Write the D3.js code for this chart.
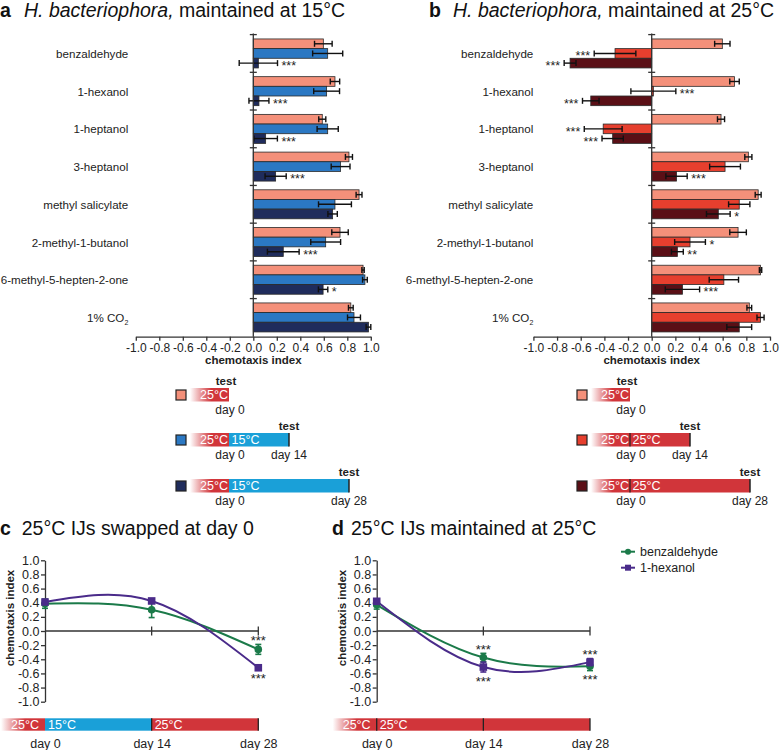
<!DOCTYPE html>
<html><head><meta charset="utf-8">
<script src="https://cdn.jsdelivr.net/npm/d3@7"></script>
<style>body{margin:0;background:#fff}svg{display:block;font-family:"Liberation Sans",Arial,Helvetica,sans-serif}</style>
</head><body><svg id="chart" width="781" height="750"></svg>
<script>
// ---------------- data ----------------
const odorants = ["benzaldehyde","1-hexanol","1-heptanol","3-heptanol","methyl salicylate","2-methyl-1-butanol","6-methyl-5-hepten-2-one","1% CO2"];
const ciTicks = [-1.0,-0.8,-0.6,-0.4,-0.2,0.0,0.2,0.4,0.6,0.8,1.0];

// panel a: maintained at 15°C (day 0, day 14, day 28)
const a15Day0 = [0.596,0.695,0.587,0.814,0.900,0.738,0.934,0.830];
const a15Day0Err = [0.075,0.040,0.030,0.030,0.025,0.070,0.010,0.020];
const a15Day14 = [0.633,0.624,0.633,0.743,0.695,0.616,0.950,0.857];
const a15Day14Err = [0.128,0.110,0.090,0.080,0.140,0.127,0.020,0.055];
const a15Day28 = [0.043,0.048,0.105,0.190,0.675,0.255,0.594,0.980];
const a15Day28Err = [0.163,0.085,0.100,0.090,0.040,0.135,0.040,0.020];
const a15Sig0 = ["","","","","","","",""];
const a15Sig14 = ["","","","","","","",""];
const a15Sig28 = ["***","***","***","***","","***","*",""];

// panel b: maintained at 25°C
const b25Day0 = [0.597,0.700,0.586,0.817,0.900,0.730,0.920,0.825];
const b25Day0Err = [0.065,0.040,0.030,0.030,0.025,0.070,0.010,0.020];
const b25Day14 = [-0.310,0.014,-0.410,0.620,0.740,0.324,0.610,0.920];
const b25Day14Err = [0.176,0.190,0.160,0.130,0.090,0.130,0.124,0.030];
const b25Day28 = [-0.690,-0.515,-0.330,0.210,0.563,0.217,0.260,0.740];
const b25Day28Err = [0.050,0.070,0.090,0.090,0.100,0.050,0.145,0.105];
const b25Sig0 = ["","","","","","","",""];
const b25Sig14 = ["***","***","***","","","*","",""];
const b25Sig28 = ["***","***","***","***","*","**","***",""];

// legend timelines
const testDays = [0, 14, 28];
const holdA = ["25°C","15°C"];
const holdB = ["25°C","25°C"];

// panels c, d
const timeDays = [0, 14, 28];
const dayLabels = ["day 0","day 14","day 28"];
const yTicks = [1.0,0.8,0.6,0.4,0.2,0.0,-0.2,-0.4,-0.6,-0.8,-1.0];
const cBenz = [0.386,0.300,-0.260], cBenzErr = [0.065,0.110,0.070];
const cHex  = [0.410,0.425,-0.520], cHexErr  = [0.030,0.030,0.030];
const cSig  = ["","","***"];
const dBenz = [0.370,-0.376,-0.500], dBenzErr = [0.060,0.060,0.060];
const dHex  = [0.420,-0.510,-0.440], dHexErr  = [0.030,0.070,0.050];
const dSig  = ["","***","***"];
const cSegments = ["15°C","25°C"];
const dSegments = ["25°C",""];
const lineNames = ["benzaldehyde","1-hexanol"];

// ---------------- styles ----------------
const C = {
  salmon:"#f4907a", blue:"#2b78c3", navy:"#1f2c5c",
  red:"#e63f2e", maroon:"#5a0f16",
  tRed:"#d1353a", tBlue:"#1aa0d8",
  green:"#1b7a49", purple:"#4a2b8a", ink:"#222"
};
const svg = d3.select("#chart");
const defs = svg.append("defs");
const grad = defs.append("linearGradient").attr("id","fade").attr("x1",0).attr("x2",1).attr("y1",0).attr("y2",0);
grad.append("stop").attr("offset","0%").attr("stop-color","#fff");
grad.append("stop").attr("offset","55%").attr("stop-color",C.tRed);
grad.append("stop").attr("offset","100%").attr("stop-color",C.tRed);

function fmt(d){ return (Math.abs(d)<1e-9?0:d).toFixed(1); }

function title(x1, x2, y, letter, parts){
  const t = svg.append("text").attr("y", y).attr("font-size", 19.5).attr("fill","#111");
  t.append("tspan").attr("x", x1).attr("font-weight","bold").text(letter);
  let first = true;
  parts.forEach(p => {
    const s = t.append("tspan").text(p.t);
    if (first) { s.attr("x", x2); first = false; }
    if (p.i) s.attr("font-style","italic");
  });
}

// ---------------- bar panels ----------------
function barPanel(p){
  const g = svg.append("g");
  const x = d3.scaleLinear().domain([-1,1]).range([p.xMin, p.xMax]);
  const y = d3.scaleBand().domain(odorants).range([34.6, 336.3]);
  const sub = d3.scaleBand().domain([0,1,2]).range([4.35, 33.35]);
  const x0 = x(0);

  p.series.forEach((s, si) => {
    const rows = s.v.map((v,i)=>({v, e:s.e[i], sig:s.sig[i], cat:odorants[i]}));
    g.append("g").selectAll("rect").data(rows).join("rect")
      .attr("x", d => x(Math.min(0,d.v)))
      .attr("width", d => Math.abs(x(d.v)-x0))
      .attr("y", d => y(d.cat)+sub(si))
      .attr("height", sub.bandwidth())
      .attr("fill", s.color).attr("stroke","#2a2a2a").attr("stroke-width",0.8);
    const eb = g.append("g").attr("stroke","#111").attr("stroke-width",1.4);
    rows.forEach(d => {
      const cy = y(d.cat)+sub(si)+sub.bandwidth()/2;
      eb.append("line").attr("x1",x(d.v-d.e)).attr("x2",x(d.v+d.e)).attr("y1",cy).attr("y2",cy);
      [d.v-d.e, d.v+d.e].forEach(t => eb.append("line").attr("x1",x(t)).attr("x2",x(t)).attr("y1",cy-3).attr("y2",cy+3));
      if (d.sig) {
        const pos = d.v >= 0;
        g.append("text").attr("x", pos ? x(d.v+d.e)+4 : x(d.v-d.e)-4)
          .attr("y", cy+7).attr("text-anchor", pos?"start":"end")
          .attr("font-size",12.5).attr("fill",C.ink).text(d.sig);
      }
    });
  });

  // zero (category) axis
  g.append("line").attr("x1",x0).attr("x2",x0).attr("y1",33.5).attr("y2",336.7)
    .attr("stroke","#333").attr("stroke-width",1.3);
  y.domain().forEach(c => {
    g.append("line").attr("x1",x0-3.5).attr("x2",x0+3.5).attr("y1",y(c)).attr("y2",y(c))
      .attr("stroke","#333").attr("stroke-width",1.3);
  });

  // category labels
  y.domain().forEach(c => {
    const t = g.append("text").attr("x",p.labelX).attr("y",y(c)+y.bandwidth()/2+4.5)
      .attr("text-anchor","end").attr("font-size",11.6).attr("fill",C.ink);
    if (c === "1% CO2") {
      t.append("tspan").text("1% CO");
      t.append("tspan").attr("font-size",7).attr("dy",3).text("2");
    } else t.text(c);
  });

  // bottom axis
  const ax = g.append("g").attr("transform","translate(0,336.7)")
    .call(d3.axisBottom(x).tickValues(ciTicks).tickFormat(fmt).tickSize(4).tickSizeOuter(0).tickPadding(3));
  ax.select(".domain").attr("stroke","#333").attr("stroke-width",1.3);
  ax.selectAll(".tick line").attr("stroke","#333").attr("stroke-width",1.3);
  ax.selectAll("text").attr("font-size",12).attr("fill",C.ink).attr("font-family",null);
  g.append("text").attr("x",(p.xMin+p.xMax)/2).attr("y",364).attr("text-anchor","middle")
    .attr("font-weight","bold").attr("font-size",11.5).attr("fill",C.ink).text("chemotaxis index");
}

// ---------------- legend timelines ----------------
function legendTimelines(off, colors, hold, segColor, dividers){
  const lx = d3.scaleLinear().domain([0,28]).range([229+off, 349+off]);
  const tops = [388, 433, 479], h = 13.5;
  testDays.forEach((td, k) => {
    const top = tops[k];
    svg.append("rect").attr("x",176+off).attr("y",top+2).attr("width",10).attr("height",10)
      .attr("fill",colors[k]).attr("stroke","#222").attr("stroke-width",1.2);
    svg.append("rect").attr("x",lx(0)-39).attr("y",top).attr("width",39).attr("height",h).attr("fill","url(#fade)");
    if (td > 0) {
      svg.append("rect").attr("x",lx(0)).attr("y",top).attr("width",lx(td)-lx(0)).attr("height",h).attr("fill",segColor);
      if (dividers) svg.append("line").attr("x1",lx(0)).attr("x2",lx(0)).attr("y1",top).attr("y2",top+h).attr("stroke","#222").attr("stroke-width",1.2);
      svg.append("line").attr("x1",lx(td)).attr("x2",lx(td)).attr("y1",top).attr("y2",top+h).attr("stroke","#222").attr("stroke-width",1.5);
      svg.append("text").attr("x",lx(0)+2.5).attr("y",top+h-2.3).attr("font-size",12.5).attr("fill","#fff").text(hold[1]);
      svg.append("text").attr("x",lx(td)).attr("y",top+h+12.5).attr("text-anchor","middle").attr("font-size",12).attr("fill",C.ink).text("day "+td);
    }
    svg.append("text").attr("x",lx(0)-29).attr("y",top+h-2.3).attr("font-size",12.5).attr("fill","#fff").text(hold[0]);
    svg.append("text").attr("x",lx(td)-(td===0?3:0)).attr("y",top-3.5).attr("text-anchor","middle")
      .attr("font-size",11.5).attr("font-weight","bold").attr("fill",C.ink).text("test");
    svg.append("text").attr("x",lx(0)+1).attr("y",top+h+12.5).attr("text-anchor","middle").attr("font-size",12).attr("fill",C.ink).text("day 0");
  });
}

// ---------------- line panels ----------------
function linePanel(p){
  const g = svg.append("g");
  const x = d3.scaleLinear().domain([0,28]).range([p.x0, p.x0+213.3]);
  const y = d3.scaleLinear().domain([-1,1]).range([701.7, 560.3]);
  const ya = g.append("g").attr("transform",`translate(${x(0)},0)`)
    .call(d3.axisLeft(y).tickValues(yTicks).tickFormat(fmt).tickSize(4).tickSizeOuter(0).tickPadding(1.5));
  ya.select(".domain").attr("stroke","#333").attr("stroke-width",1.3);
  ya.selectAll(".tick line").attr("stroke","#333").attr("stroke-width",1.3);
  ya.selectAll("text").attr("font-size",12.5).attr("fill",C.ink).attr("font-family",null);
  g.append("text").attr("transform",`translate(${p.x0-31},618) rotate(-90)`).attr("text-anchor","middle")
    .attr("font-weight","bold").attr("font-size",11.5).attr("fill",C.ink).text("chemotaxis index");
  // x axis at zero
  g.append("line").attr("x1",x(0)).attr("x2",x(28)).attr("y1",y(0)).attr("y2",y(0)).attr("stroke","#333").attr("stroke-width",1.3);
  timeDays.slice(1).forEach(d => g.append("line").attr("x1",x(d)).attr("x2",x(d)).attr("y1",y(0)-4.5).attr("y2",y(0)+4.5).attr("stroke","#333").attr("stroke-width",1.3));

  const line = d3.line().x((d,i)=>x(timeDays[i])).y(d=>y(d)).curve(d3.curveNatural);
  p.series.forEach(s => {
    g.append("path").attr("d",line(s.v)).attr("fill","none").attr("stroke",s.color).attr("stroke-width",2);
  });
  p.series.forEach(s => {
    s.v.forEach((v,i) => {
      const cx = x(timeDays[i]), e = s.e[i];
      g.append("line").attr("x1",cx).attr("x2",cx).attr("y1",y(v-e)).attr("y2",y(v+e)).attr("stroke",s.color).attr("stroke-width",1.6);
      [v-e, v+e].forEach(t => g.append("line").attr("x1",cx-3).attr("x2",cx+3).attr("y1",y(t)).attr("y2",y(t)).attr("stroke",s.color).attr("stroke-width",1.6));
      if (s.shape === "circle") g.append("circle").attr("cx",cx).attr("cy",y(v)).attr("r",3.8).attr("fill",s.color);
      else g.append("rect").attr("x",cx-3.8).attr("y",y(v)-3.8).attr("width",7.6).attr("height",7.6).attr("fill",s.color);
    });
  });
  // significance
  p.sig.forEach((sg,i) => {
    if (!sg) return;
    const a = p.series[0], b = p.series[1];
    const hi = a.v[i] >= b.v[i] ? a : b, lo = hi === a ? b : a;
    const cx = x(timeDays[i]);
    g.append("text").attr("x",cx).attr("y",y(hi.v[i]+hi.e[i])-6.5+7).attr("text-anchor","middle").attr("font-size",13).attr("fill",C.ink).text(sg);
    g.append("text").attr("x",cx).attr("y",y(lo.v[i]-lo.e[i])+6.5+7).attr("text-anchor","middle").attr("font-size",13).attr("fill",C.ink).text(sg);
  });
  // timeline
  const top = 718.3, h = 12.4;
  g.append("rect").attr("x",x(0)-44).attr("y",top).attr("width",44).attr("height",h).attr("fill","url(#fade)");
  p.segs.forEach((lab,k) => {
    g.append("rect").attr("x",x(timeDays[k])).attr("y",top).attr("width",x(timeDays[k+1])-x(timeDays[k])).attr("height",h).attr("fill",p.segColors[k]);
    if (lab) g.append("text").attr("x",x(timeDays[k])+3).attr("y",top+h-1.8).attr("font-size",12.5).attr("fill","#fff").text(lab);
  });
  g.append("text").attr("x",x(0)-34).attr("y",top+h-1.8).attr("font-size",12.5).attr("fill","#fff").text("25°C");
  p.lines.forEach(d => g.append("line").attr("x1",x(d)).attr("x2",x(d)).attr("y1",top).attr("y2",top+h).attr("stroke","#222").attr("stroke-width",1.3));
  timeDays.forEach((d,i) => g.append("text").attr("x",x(d)+0.5).attr("y",748).attr("text-anchor","middle").attr("font-size",12.5).attr("fill",C.ink).text(dayLabels[i]));
}

// ---------------- draw ----------------
title(0, 24, 16.5, "a", [{t:"H. bacteriophora,", i:true},{t:" maintained at 15°C"}]);
title(429, 453, 16.5, "b", [{t:"H. bacteriophora,", i:true},{t:" maintained at 25°C"}]);
title(0, 21.7, 535, "c", [{t:"25°C IJs swapped at day 0"}]);
title(332, 351, 535, "d", [{t:"25°C IJs maintained at 25°C"}]);

barPanel({xMin:135.8, xMax:370.8, labelX:128.3,
  series:[{v:a15Day0,e:a15Day0Err,sig:a15Sig0,color:C.salmon},
          {v:a15Day14,e:a15Day14Err,sig:a15Sig14,color:C.blue},
          {v:a15Day28,e:a15Day28Err,sig:a15Sig28,color:C.navy}]});
barPanel({xMin:533.4, xMax:770, labelX:533.3,
  series:[{v:b25Day0,e:b25Day0Err,sig:b25Sig0,color:C.salmon},
          {v:b25Day14,e:b25Day14Err,sig:b25Sig14,color:C.red},
          {v:b25Day28,e:b25Day28Err,sig:b25Sig28,color:C.maroon}]});

legendTimelines(0, [C.salmon,C.blue,C.navy], holdA, C.tBlue, false);
legendTimelines(401, [C.salmon,C.red,C.maroon], holdB, C.tRed, true);

linePanel({x0:45, sig:cSig, segs:cSegments, segColors:[C.tBlue,C.tRed], lines:[14,28],
  series:[{v:cBenz,e:cBenzErr,color:C.green,shape:"circle"},{v:cHex,e:cHexErr,color:C.purple,shape:"square"}]});
linePanel({x0:376.7, sig:dSig, segs:dSegments, segColors:[C.tRed,C.tRed], lines:[0,14,28],
  series:[{v:dBenz,e:dBenzErr,color:C.green,shape:"circle"},{v:dHex,e:dHexErr,color:C.purple,shape:"square"}]});

// legend for line panels
const lg = svg.append("g");
[[C.green,"circle"],[C.purple,"square"]].forEach((s,i) => {
  const cy = 551.7 + i*16;
  lg.append("line").attr("x1",621).attr("x2",635).attr("y1",cy).attr("y2",cy).attr("stroke",s[0]).attr("stroke-width",2);
  if (s[1]==="circle") lg.append("circle").attr("cx",628).attr("cy",cy).attr("r",3).attr("fill",s[0]);
  else lg.append("rect").attr("x",625).attr("y",cy-3).attr("width",6).attr("height",6).attr("fill",s[0]);
  lg.append("text").attr("x",640).attr("y",cy+4.5).attr("font-size",12.5).attr("fill",C.ink).text(lineNames[i]);
});
</script></body></html>
